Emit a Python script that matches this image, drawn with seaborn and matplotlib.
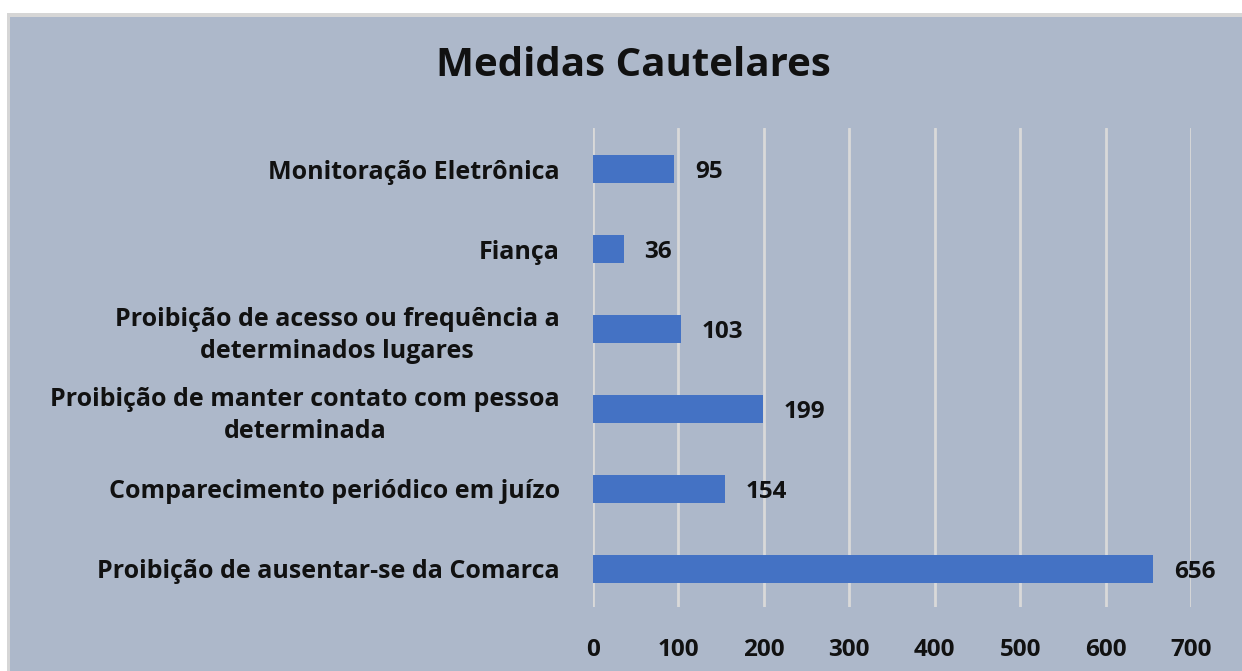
import matplotlib
matplotlib.use("Agg")
import matplotlib.pyplot as plt
from matplotlib.patches import Rectangle
import seaborn as sns
import pandas as pd

categories = [
    "Monitoração Eletrônica",
    "Fiança",
    "Proibição de acesso ou frequência a\ndeterminados lugares",
    "Proibição de manter contato com pessoa\ndeterminada",
    "Comparecimento periódico em juízo",
    "Proibição de ausentar-se da Comarca",
]
values = [95, 36, 103, 199, 154, 656]
x_ticks = [0, 100, 200, 300, 400, 500, 600, 700]
title = "Medidas Cautelares"

BG = "#ADB8CA"
BAR = "#4472C4"
GRID = "#D9D9D9"
TXT = "#111111"

sns.set_theme(style="white")
plt.rcParams["font.family"] = ["Open Sans", "DejaVu Sans"]
plt.rcParams["font.weight"] = "bold"

fig = plt.figure(figsize=(12.42, 6.71), dpi=100, facecolor="white")
W, H = 1242, 671
fig.patches.append(Rectangle((7 / W, 0), 1, (H - 13) / H, transform=fig.transFigure,
                             facecolor="#D6D6D6", edgecolor="none", zorder=-10))
fig.patches.append(Rectangle((10 / W, 0), 1, (H - 17) / H, transform=fig.transFigure,
                             facecolor=BG, edgecolor="none", zorder=-9))

ax = fig.add_axes([593 / W, 1 - 607 / H, (1191 - 593) / W, (607 - 128) / H])
ax.set_facecolor("none")

df = pd.DataFrame({"cat": categories, "val": values})
sns.barplot(data=df, y="cat", x="val", order=categories, color=BAR, width=0.34,
            saturation=1, linewidth=0, ax=ax, zorder=3)

ax.set_xlim(0, 700)
ax.set_ylim(5.475, -0.5125)
ax.set_xticks(x_ticks)
ax.set_xticklabels([str(t) for t in x_ticks], fontsize=17.5, fontweight="bold", color=TXT)
ax.set_yticks(range(len(categories)))
ax.set_yticklabels(categories, fontsize=18, fontweight="bold", color=TXT,
                   multialignment="center", linespacing=1.35)
ax.tick_params(axis="x", length=0, pad=22)
ax.tick_params(axis="y", length=0, pad=24)
ax.set_xlabel("")
ax.set_ylabel("")
for s in ax.spines.values():
    s.set_visible(False)
ax.xaxis.grid(True, color=GRID, linewidth=2, zorder=0)
ax.yaxis.grid(False)
ax.set_axisbelow(True)

for i, v in enumerate(values):
    ax.annotate(str(v), xy=(v, i), xytext=(15, 0), textcoords="offset points",
                ha="left", va="center_baseline", fontsize=17.5, fontweight="bold", color=TXT)

fig.text(633 / W, 1 - 65 / H, title, ha="center", va="center",
         fontsize=29, fontweight="bold", color=TXT)

fig.savefig("out.png", dpi=100, facecolor=fig.get_facecolor())
